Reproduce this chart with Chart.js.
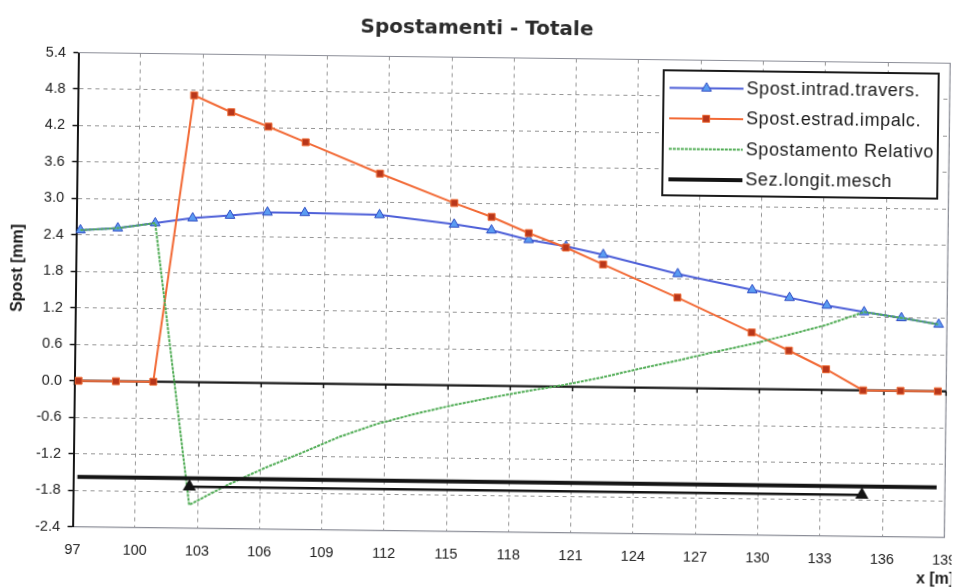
<!DOCTYPE html>
<html>
<head>
<meta charset="utf-8">
<script src="https://cdn.jsdelivr.net/npm/chart.js@4.4.1/dist/chart.umd.min.js"></script>
<style>
  html, body { margin: 0; padding: 0; background: #fff; overflow: hidden; }
  #wrap { width: 955px; height: 588px; transform: rotate(0.7deg); transform-origin: 477.5px 294px; }
  canvas { display: block; }
</style>
</head>
<body>
<div id="wrap"><canvas id="chart" width="955" height="588"></canvas></div>
<script>
// Stations along the deck [m] where the two displacement series are sampled
const stations = [97.2, 99.0, 100.8, 102.6, 104.4, 106.2, 108.0, 111.6, 115.2, 117.0,
                  118.8, 120.6, 122.4, 126.0, 129.6, 131.4, 133.2, 135.0, 136.8, 138.6];
// Transverse intrados displacement [mm]
const spostIntrad = [2.48, 2.52, 2.61, 2.70, 2.75, 2.81, 2.81, 2.79, 2.65, 2.56,
                     2.41, 2.31, 2.18, 1.88, 1.63, 1.51, 1.39, 1.29, 1.20, 1.10];
// Deck extrados displacement [mm]
const spostEstrad = [0.00, 0.00, 0.00, 4.72, 4.45, 4.22, 3.97, 3.47, 3.00, 2.78,
                     2.52, 2.29, 2.02, 1.49, 0.93, 0.64, 0.34, 0.00, 0.00, 0.00];
// Relative displacement [mm]
const relStations = [97.2, 99.0, 100.8, 102.6, 104.4, 106.2, 108.0, 109.8, 111.6, 113.4,
                     115.2, 117.0, 118.8, 120.6, 122.4, 124.2, 126.0, 127.8, 129.6, 131.4,
                     133.2, 135.0, 136.8, 138.6];
const spostRelativo = [2.48, 2.52, 2.61, -2.02, -1.69, -1.40, -1.14, -0.87, -0.65, -0.48,
                       -0.33, -0.20, -0.08, 0.03, 0.16, 0.31, 0.45, 0.60, 0.74, 0.90,
                       1.07, 1.29, 1.20, 1.10];
// Longitudinal section reference lines
const sezStations = [97.2, 138.6];
const sezLevel = [-1.58, -1.58];
const sezInnerStations = [102.6, 135.0];
const sezInnerLevel = [-1.72, -1.72];

// Axis ticks
const xTicks = [97, 100, 103, 106, 109, 112, 115, 118, 121, 124, 127, 130, 133, 136, 139];
const yTicks = [-2.4, -1.8, -1.2, -0.6, 0.0, 0.6, 1.2, 1.8, 2.4, 3.0, 3.6, 4.2, 4.8, 5.4];

const pts = (xs, ys) => xs.map((x, i) => ({ x: x, y: ys[i] }));

// Zero line with its tick marks, plus the grey frame on top and right
const axisFrame = {
  id: 'axisFrame',
  beforeDatasetsDraw(chart) {
    const { ctx, chartArea: a, scales: { x, y } } = chart;
    const y0 = y.getPixelForValue(0);
    ctx.save();
    ctx.strokeStyle = '#8c8e98';
    ctx.lineWidth = 1.2;
    ctx.beginPath();
    ctx.moveTo(a.left, a.top);
    ctx.lineTo(a.right, a.top);
    ctx.lineTo(a.right, a.bottom);
    ctx.stroke();
    ctx.strokeStyle = '#161616';
    ctx.lineWidth = 2.3;
    ctx.beginPath();
    ctx.moveTo(a.left, y0);
    ctx.lineTo(a.right, y0);
    ctx.stroke();
    ctx.lineWidth = 1.5;
    x.ticks.forEach(t => {
      const px = x.getPixelForValue(t.value);
      ctx.beginPath();
      ctx.moveTo(px, y0);
      ctx.lineTo(px, y0 + 4.5);
      ctx.stroke();
    });
    ctx.restore();
  }
};

// Axis titles
const axisTitles = {
  id: 'axisTitles',
  afterDraw(chart) {
    const ctx = chart.ctx;
    ctx.save();
    ctx.fillStyle = '#1e1e1e';
    ctx.font = 'bold 16px "Liberation Sans", Arial, sans-serif';
    ctx.textAlign = 'center';
    ctx.textBaseline = 'middle';
    ctx.translate(17.7, 273.6);
    ctx.rotate(-Math.PI / 2);
    ctx.fillText('Spost [mm]', 0, 0);
    ctx.restore();
    ctx.save();
    ctx.fillStyle = '#1e1e1e';
    ctx.font = 'bold 16px "Liberation Sans", Arial, sans-serif';
    ctx.textAlign = 'center';
    ctx.textBaseline = 'middle';
    ctx.fillText('x [m]', 938.5, 573.4);
    ctx.restore();
  }
};

function drawMarker(ctx, style, r, x, y) {
  ctx.beginPath();
  if (style === 'triangle') {
    ctx.moveTo(x, y - r);
    ctx.lineTo(x + r * 0.866, y + r * 0.5);
    ctx.lineTo(x - r * 0.866, y + r * 0.5);
    ctx.closePath();
  } else {
    const s = r * Math.SQRT1_2;
    ctx.rect(x - s, y - s, 2 * s, 2 * s);
  }
  ctx.fill();
  ctx.stroke();
}

// Boxed legend in the upper right of the plot
const boxLegend = {
  id: 'boxLegend',
  afterDraw(chart) {
    const ctx = chart.ctx;
    const items = chart.data.datasets.filter(d => d.label);
    const left = 661, top = 68, right = 936, bottom = 193;
    ctx.save();
    ctx.fillStyle = '#ffffff';
    ctx.fillRect(left, top, right - left, bottom - top);
    ctx.lineWidth = 2;
    ctx.strokeStyle = '#1a1a1a';
    ctx.strokeRect(left, top, right - left, bottom - top);
    items.forEach((ds, i) => {
      const y = 85.5 + i * 30.5;
      ctx.save();
      ctx.strokeStyle = ds.borderColor;
      ctx.lineWidth = ds.borderWidth;
      ctx.setLineDash(ds.borderDash || []);
      ctx.beginPath();
      ctx.moveTo(667, y);
      ctx.lineTo(741, y);
      ctx.stroke();
      ctx.restore();
      if (ds.pointRadius > 0) {
        ctx.save();
        ctx.fillStyle = ds.pointBackgroundColor;
        ctx.strokeStyle = ds.pointBorderColor;
        ctx.lineWidth = 1;
        drawMarker(ctx, ds.pointStyle, ds.pointRadius, 704, y);
        ctx.restore();
      }
      ctx.save();
      ctx.fillStyle = '#1a1a1a';
      ctx.font = '18px "Liberation Sans", Arial, sans-serif';
      if ('letterSpacing' in ctx) ctx.letterSpacing = '0.6px';
      ctx.textAlign = 'left';
      ctx.textBaseline = 'middle';
      ctx.fillText(ds.label, 744, y + 0.5);
      ctx.restore();
    });
    ctx.restore();
  }
};

const tickFont = { family: '"Liberation Sans", Arial, sans-serif', size: 14.5 };

new Chart(document.getElementById('chart'), {
  type: 'line',
  data: {
    datasets: [
      {
        label: 'Spost.intrad.travers.',
        data: pts(stations, spostIntrad),
        borderColor: '#4d5fd8',
        borderWidth: 2,
        pointStyle: 'triangle',
        pointRadius: 5.6,
        pointBackgroundColor: '#5a9cf2',
        pointBorderColor: '#2f4cc4',
        pointBorderWidth: 1,
        tension: 0,
        order: 3
      },
      {
        label: 'Spost.estrad.impalc.',
        data: pts(stations, spostEstrad),
        borderColor: '#f26a36',
        borderWidth: 2,
        pointStyle: 'rect',
        pointRadius: 4.9,
        pointBackgroundColor: '#b8361a',
        pointBorderColor: '#ee6a34',
        pointBorderWidth: 1,
        tension: 0,
        order: 2
      },
      {
        label: 'Spostamento Relativo',
        data: pts(relStations, spostRelativo),
        borderColor: '#52ad57',
        borderWidth: 2,
        borderDash: [3, 1],
        pointRadius: 0,
        tension: 0,
        order: 1
      },
      {
        label: 'Sez.longit.mesch',
        data: pts(sezStations, sezLevel),
        borderColor: '#141414',
        borderWidth: 4,
        pointRadius: 0,
        tension: 0,
        order: 0
      },
      {
        label: '',
        data: pts(sezInnerStations, sezInnerLevel),
        borderColor: '#141414',
        borderWidth: 2.5,
        pointStyle: 'triangle',
        pointRadius: 5.2,
        pointBackgroundColor: '#141414',
        pointBorderColor: '#141414',
        tension: 0,
        order: 0
      }
    ]
  },
  options: {
    responsive: false,
    animation: false,
    devicePixelRatio: 1,
    layout: { padding: { left: 0, right: 7.5, top: 0, bottom: 0 } },
    plugins: {
      legend: { display: false },
      tooltip: { enabled: false },
      title: {
        display: true,
        text: 'Spostamenti - Totale',
        color: '#2b2b2b',
        font: { family: '"DejaVu Sans", Verdana, sans-serif', size: 20, weight: 'bold' },
        padding: { top: 16.5, bottom: 17 }
      }
    },
    scales: {
      x: {
        type: 'linear',
        min: 97,
        max: 139,
        afterBuildTicks: s => { s.ticks = xTicks.map(v => ({ value: v })); },
        afterFit: s => { s.height = 56.5; s.paddingLeft = 0; s.paddingRight = 0; },
        grid: { color: '#969696', lineWidth: 1, drawTicks: false },
        border: { color: '#8c8e98', width: 1.2, dash: [4, 4] },
        ticks: { font: tickFont, color: '#222', padding: 15, maxRotation: 0, autoSkip: false }
      },
      y: {
        type: 'linear',
        min: -2.4,
        max: 5.4,
        afterBuildTicks: s => { s.ticks = yTicks.map(v => ({ value: v })); },
        afterFit: s => { s.width = 75.5; s.paddingTop = 0; s.paddingBottom = 0; },
        grid: { color: '#969696', lineWidth: 1, drawTicks: true, tickLength: 5, tickColor: '#151515', tickWidth: 1.5 },
        border: { color: '#151515', width: 2, dash: [4, 4] },
        ticks: {
          font: tickFont,
          color: '#222',
          padding: 7.5,
          autoSkip: false,
          callback: v => (Math.abs(v) < 1e-9 ? 0 : v).toFixed(1)
        }
      }
    }
  },
  plugins: [axisFrame, axisTitles, boxLegend]
});
</script>
</body>
</html>
